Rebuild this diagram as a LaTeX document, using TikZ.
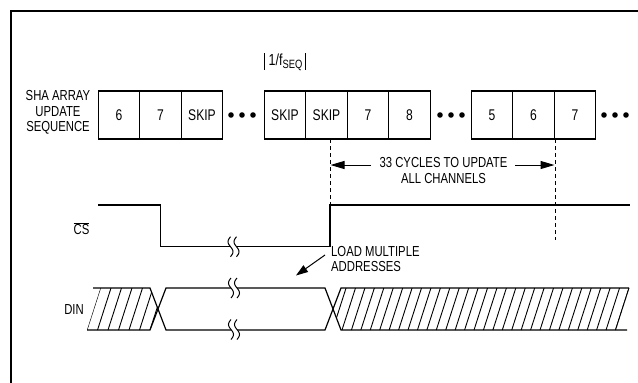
\documentclass[tikz,border=0pt]{standalone}
\usepackage{fontspec}
\setmainfont{Liberation Sans}[FakeStretch=0.78]
\usetikzlibrary{arrows.meta}
\tikzset{
  seqbox/.style={draw, line width=1.2pt, minimum width=41.5pt, minimum height=48pt, inner sep=0pt, font=\fontsize{15.5}{17}\selectfont},
  lbl/.style={inner sep=0pt, font=\fontsize{14.5}{15.5}\selectfont},
  sig/.style={line width=1.2pt},
  dashln/.style={line width=0.8pt, dash pattern=on 4pt off 3pt},
  dimarrow/.style={line width=1pt, -{Triangle[length=14pt,width=8pt]}},
  brk/.pic={
    \fill[white] plot[domain=-10:10,samples=25] ({-3+2.5*sin(\x*18)},\x) -- plot[domain=10:-10,samples=25] ({3+2.5*sin(\x*18)},\x) -- cycle;
    \draw[line width=1pt] plot[domain=-10:10,samples=25] ({-3+2.5*sin(\x*18)},\x);
    \draw[line width=1pt] plot[domain=-10:10,samples=25] ({3+2.5*sin(\x*18)},\x);
  }
}
\begin{document}
\begin{tikzpicture}[x=1pt,y=-1pt]
\useasboundingbox (0,0) rectangle (638,383);
% frame
\draw[line width=2pt] (11,390) -- (11,10.7) -- (645,10.7);

% label
\node[lbl, align=center] (sha) at (58,112.5) {SHA ARRAY\\UPDATE\\SEQUENCE};

% boxes
\node[seqbox] (b1) at (119,115) {6};
\node[seqbox] (b2) at (160.5,115) {7};
\node[seqbox] (b3) at (202,115) {SKIP};
\node[seqbox] (b4) at (285,115) {SKIP};
\node[seqbox] (b5) at (326.5,115) {SKIP};
\node[seqbox] (b6) at (368,115) {7};
\node[seqbox] (b7) at (409.5,115) {8};
\node[seqbox] (b8) at (492,115) {5};
\node[seqbox] (b9) at (533.5,115) {6};
\node[seqbox] (b10) at (575,115) {7};

% dots
\foreach \d in {231,242,253, 440,451,462, 604,615,626}
  \fill (\d,115) circle (2.8);

% 1/fSEQ marker
\draw[line width=1pt] (264.2,53) -- (264.2,70);
\draw[line width=1pt] (305.8,53) -- (305.8,70);
\node[lbl, font=\fontsize{16}{17}\selectfont] (fseq) at (285.5,62) {1/f{\fontsize{12}{12}\selectfont\raisebox{-3pt}{SEQ}}};

% dashed lines
\coordinate (d1t) at (330,139);
\coordinate (d1b) at (330,205);
\coordinate (d2t) at (555,139);
\coordinate (d2b) at (555,240);
\draw[dashln] (d1t) -- (d1b);
\draw[dashln] (d2t) -- (d2b);

% 33 cycles
\node[lbl, align=center] (cyc) at (443.5,170.5) {33 CYCLES TO UPDATE\\ALL CHANNELS};
\coordinate (a1s) at (371,165);
\coordinate (a1e) at (330.5,165);
\coordinate (a2s) at (515,165);
\coordinate (a2e) at (554.5,165);
\draw[dimarrow] (a1s) -- (a1e);
\draw[dimarrow] (a2s) -- (a2e);

% CS
\node[lbl] (cs) at (81.5,229) {$\overline{\mbox{CS}}$};
\draw[sig] (98,205) -- (160.7,205) -- (160.7,246.7) -- (330,246.7) -- (330,205) -- (630,205);
\pic at (233.5,246.7) {brk};

% load multiple
\node[lbl, align=left, anchor=west] (load) at (331,259) {LOAD MULTIPLE\\ADDRESSES};
\coordinate (ls) at (325,255);
\coordinate (le) at (296,275.5);
\draw[line width=1pt, -{Triangle[length=12pt,width=8pt]}] (ls) -- (le);

% DIN
\node[lbl] (din) at (74,310) {DIN};
\begin{scope}
  \clip (87,330) -- (100.5,288) -- (150,288) -- (158,309) -- (150,330) -- cycle;
  \foreach \k in {0,...,8} \draw[line width=0.9pt] ({87+\k*10.5},330) -- ({100.5+\k*10.5},288);
\end{scope}
\begin{scope}
  \clip (333,309) -- (341,288) -- (629,288) -- (615.5,330) -- (341,330) -- cycle;
  \foreach \k in {-1,...,29} \draw[line width=0.9pt] ({342+\k*9.43},330) -- ({355.5+\k*9.43},288);
\end{scope}
\draw[line width=0.9pt] (615.5,330) -- (629,288);
\draw[sig] (93,288) -- (150,288) -- (166,330) -- (325,330) -- (341,288) -- (629,288);
\draw[sig] (87,330) -- (150,330) -- (166,288) -- (325,288) -- (341,330) -- (627,330);
\pic at (234,288) {brk};
\pic at (234,329.5) {brk};
\end{tikzpicture}
\end{document}
